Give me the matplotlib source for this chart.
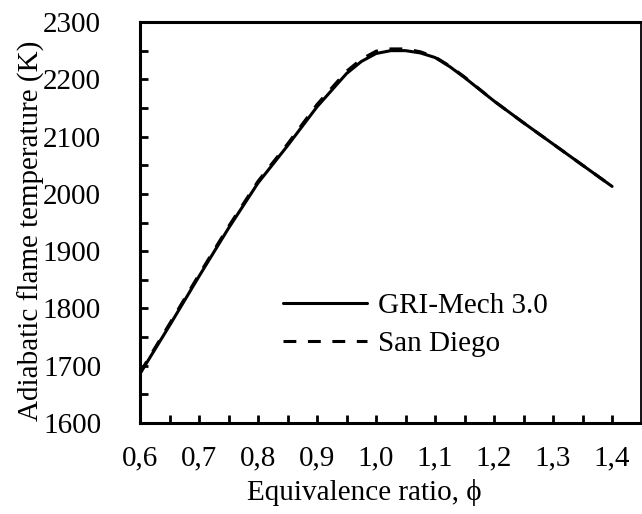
import matplotlib
matplotlib.use("Agg")
import matplotlib.pyplot as plt
from matplotlib.ticker import MultipleLocator, FuncFormatter

# Adiabatic flame temperature vs equivalence ratio
phi = [0.60, 0.65, 0.70, 0.75, 0.80, 0.85, 0.90, 0.95, 0.975, 1.00, 1.025,
       1.05, 1.075, 1.10, 1.125, 1.15, 1.20, 1.25, 1.30, 1.35, 1.40]
t_gri = [1686, 1770, 1856, 1940, 2019, 2084, 2152, 2210, 2231, 2245, 2250,
         2250, 2246, 2238, 2222, 2203, 2162, 2124, 2087, 2050, 2013]
t_sd = [1688, 1773, 1859, 1943, 2022, 2087, 2156, 2214, 2235, 2249, 2253,
        2253, 2248, 2239, 2223, 2204, 2162, 2124, 2087, 2050, 2013]

label_gri = "GRI-Mech 3.0"
label_sd = "San Diego"

plt.rcParams['font.family'] = ['Liberation Serif', 'DejaVu Serif']
fs = 21

fig = plt.figure(figsize=(6.42, 5.14), dpi=100)
ax = fig.add_axes([140/642, 91/514, 501/642, 401/514])

ax.plot(phi, t_gri, color='black', lw=2.2, label=label_gri, solid_capstyle='round')
ax.plot(phi, t_sd, color='black', lw=2.2, ls=(0, (4.2, 3.8)), label=label_sd)

ax.set_xlim(0.6, 1.449)
ax.set_ylim(1600, 2300)
ax.xaxis.set_major_locator(MultipleLocator(0.1))
ax.xaxis.set_minor_locator(MultipleLocator(0.05))
ax.yaxis.set_major_locator(MultipleLocator(100))
ax.yaxis.set_minor_locator(MultipleLocator(50))
ax.xaxis.set_major_formatter(FuncFormatter(lambda v, p: ('%.1f' % v).replace('.', ',') if v < 1.44 else ''))
ax.yaxis.set_major_formatter(FuncFormatter(lambda v, p: '%d' % round(v)))

ax.tick_params(which='both', direction='in', length=6, width=2.0, top=False, right=False)
ax.tick_params(axis='x', which='major', labelsize=fs, pad=16)
ax.tick_params(axis='y', which='major', labelsize=fs, pad=28)

for s in ['left', 'bottom', 'top']:
    ax.spines[s].set_linewidth(2.2)
ax.spines['right'].set_linewidth(1.3)

ax.set_xlabel("Equivalence ratio, ϕ", fontsize=fs, va='top')
ax.xaxis.set_label_coords(0.447, -0.14)
ax.set_ylabel("Adiabatic flame temperature (K)", fontsize=fs)
ax.yaxis.set_label_coords(-0.19, 0.479)

ax.legend(loc='upper left', bbox_to_anchor=(0.285, 0.325), frameon=False,
          fontsize=fs, handlelength=2.9, handletextpad=0.35,
          labelspacing=0.4, borderpad=0, borderaxespad=0)

fig.savefig("out.png", dpi=100)
